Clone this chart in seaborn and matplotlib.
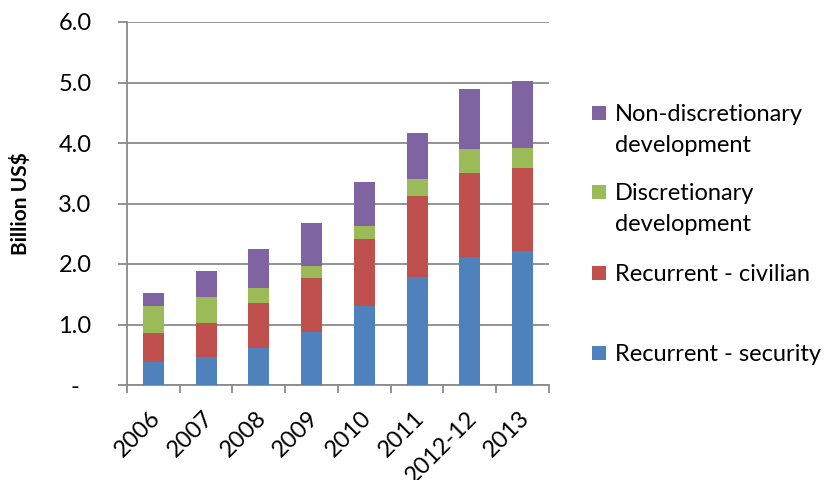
import numpy as np
import pandas as pd
import matplotlib
matplotlib.use("Agg")
import matplotlib.pyplot as plt
import matplotlib.transforms as mtransforms
import seaborn as sns
from matplotlib.patches import Rectangle

years = ["2006", "2007", "2008", "2009", "2010", "2011", "2012-12", "2013"]
recurrent_security = [0.38, 0.46, 0.61, 0.88, 1.31, 1.79, 2.11, 2.22]
recurrent_civilian = [0.48, 0.56, 0.75, 0.89, 1.10, 1.34, 1.39, 1.36]
discretionary_dev = [0.44, 0.44, 0.24, 0.19, 0.22, 0.28, 0.40, 0.34]
non_discretionary_dev = [0.22, 0.43, 0.65, 0.71, 0.73, 0.76, 0.99, 1.11]
y_tick_labels = ["-  ", "1.0", "2.0", "3.0", "4.0", "5.0", "6.0"]

series = [
    ("Recurrent - security", recurrent_security, "#4F81BD"),
    ("Recurrent - civilian", recurrent_civilian, "#C0504D"),
    ("Discretionary\ndevelopment", discretionary_dev, "#9BBB59"),
    ("Non-discretionary\ndevelopment", non_discretionary_dev, "#8064A2"),
]

sns.set_theme(style="white")
plt.rcParams["font.family"] = ["Lato", "DejaVu Sans"]

W, H = 829, 480
fig = plt.figure(figsize=(W / 100, H / 100), dpi=100)
ax = fig.add_axes([127 / W, 1 - 385 / H, 422 / W, 363 / H])

bottom = np.zeros(len(years))
for name, vals, color in series:
    df = pd.DataFrame({"year": years, "value": vals})
    sns.barplot(data=df, x="year", y="value", color=color, width=0.4,
                bottom=bottom, ax=ax, saturation=1, edgecolor="none",
                linewidth=0, zorder=3)
    bottom = bottom + np.array(vals)

grey = "#8A8A8A"
ax.set_ylim(0, 6)
ax.set_xlim(-0.5, len(years) - 0.5)
ax.set_yticks(np.arange(0, 6.01, 1.0))
ax.set_yticklabels(y_tick_labels)
ax.yaxis.grid(True, color=grey, linewidth=1.3, zorder=0)
ax.set_axisbelow(True)

for s in ["top", "right"]:
    ax.spines[s].set_visible(False)
for s in ["left", "bottom"]:
    ax.spines[s].set_color(grey)
    ax.spines[s].set_linewidth(1.3)

ax.tick_params(axis="y", which="major", length=6.5, width=1.3, color=grey,
               direction="out", labelsize=17, pad=19, left=True,
               labelcolor="black")
ax.set_xticks(np.arange(len(years)))
ax.set_xticklabels(years, rotation=45, ha="right", rotation_mode="anchor")
ax.tick_params(axis="x", which="major", length=0, labelsize=17, pad=16,
               labelcolor="black")
ax.set_xticks(np.arange(-0.5, len(years)), minor=True)
ax.tick_params(axis="x", which="minor", length=6, width=1.3, color=grey,
               direction="out", bottom=True)
offset = mtransforms.ScaledTranslation(-2.5 / 72, 0, fig.dpi_scale_trans)
for lbl in ax.get_xticklabels():
    lbl.set_transform(lbl.get_transform() + offset)

ax.set_xlabel("")
ax.set_ylabel("Billion US$", fontsize=15, fontweight="bold", va="center",
              color="black")
ax.yaxis.set_label_coords((21 - 127) / 422, 0.5)

# legend drawn as swatches and labels in figure pixel coordinates
legend_rows = [
    (series[3], 113),
    (series[2], 192),
    (series[1], 273),
    (series[0], 353),
]
for (name, vals, color), yc in legend_rows:
    fig.add_artist(Rectangle((592 / W, 1 - (yc + 7) / H), 14 / W, 14 / H,
                             transform=fig.transFigure, facecolor=color,
                             edgecolor="none"))
    fig.text(615 / W, 1 - (yc - 9) / H, name, fontsize=17, va="top",
             ha="left", linespacing=1.6, color="black")

fig.savefig("out.png", dpi=100)
